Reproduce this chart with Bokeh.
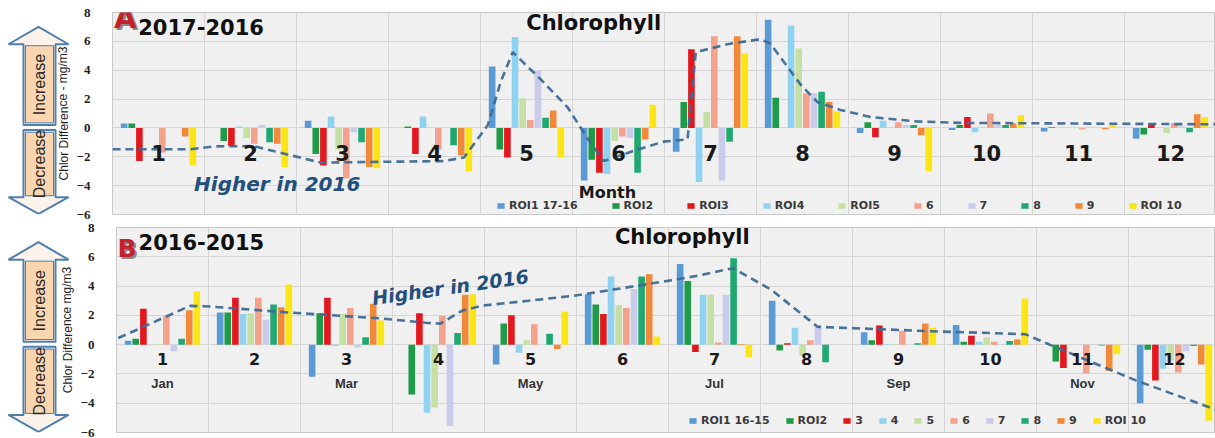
from bokeh.plotting import figure
from bokeh.models import Range1d, FixedTicker, Legend, LegendItem, Label
from bokeh.layouts import row, column
from bokeh.core.properties import value
from bokeh.embed import file_html
from bokeh.resources import INLINE

# ---------------- data ----------------
MONTHS = list(range(1, 13))
MONTH_TICK_LABELS = [str(m) for m in MONTHS]
MONTH_NAMES_B = ["Jan", "Mar", "May", "Jul", "Sep", "Nov"]
MONTH_NAME_POS_B = [1, 3, 5, 7, 9, 11]
Y_TICKS = [-6, -4, -2, 0, 2, 4, 6, 8]

ROI_LABELS_A = ["ROI1 17-16", "ROI2", "ROI3", "ROI4", "ROI5", "6", "7", "8", "9", "ROI 10"]
ROI_LABELS_B = ["ROI1 16-15", "ROI2", "3", "4", "5", "6", "7", "8", "9", "ROI 10"]
ROI_COLORS = ["#5B9BD5", "#1E9A48", "#E3171E", "#8FD3F0", "#C6E0A4",
              "#F4A28C", "#CACBEA", "#20A872", "#F08A3A", "#FBE515"]

# Panel A: 2017-2016 (values per ROI, months 1..12)
A_ROI1 = [0.3, 0.0, 0.5, 0.0, 4.25, -3.65, -1.65, 7.5, -0.35, -0.15, -0.25, -0.75]
A_ROI2 = [0.3, -0.9, -1.8, 0.1, -1.5, -2.2, 1.8, 2.1, 0.4, 0.2, 0.05, -0.45]
A_ROI3 = [-2.3, -1.25, -2.6, -1.8, -2.05, -3.1, 5.45, 0.0, -0.65, 0.75, 0.0, 0.3]
A_ROI4 = [0.0, 0.1, 0.8, 0.8, 6.3, -3.2, -3.75, 7.1, 0.5, -0.3, 0.0, 0.0]
A_ROI5 = [0.0, -0.7, -1.5, 0.0, 2.05, -0.9, 1.1, 5.5, 0.0, 0.05, 0.0, -0.35]
A_ROI6 = [-1.7, -1.1, -3.5, -1.5, 0.55, -0.6, 6.35, 2.4, 0.4, 1.0, -0.1, 0.35]
A_ROI7 = [0.0, 0.2, -0.3, 0.0, 4.0, -0.7, -3.65, 2.4, 0.2, 0.2, 0.05, 0.1]
A_ROI8 = [0.0, -1.0, -1.0, -1.2, 0.7, -3.1, -0.95, 2.5, 0.2, 0.2, 0.0, -0.3]
A_ROI9 = [-0.6, -1.1, -2.7, -1.9, 1.2, -0.8, 6.35, 1.8, -0.5, 0.3, -0.1, 0.95]
A_ROI10 = [-2.6, -2.7, -2.8, -3.0, -2.05, 1.6, 5.15, 1.15, -3.0, 0.9, 0.2, 0.75]

# Panel B: 2016-2015
B_ROI1 = [0.27, 2.2, -2.2, 0.0, -1.35, 3.45, 5.5, 3.0, 0.85, 1.35, 0.0, -4.0]
B_ROI2 = [0.4, 2.2, 2.15, -3.4, 1.45, 2.75, 4.35, -0.4, 0.3, 0.2, -1.15, -0.35]
B_ROI3 = [2.45, 3.2, 3.2, 2.15, 2.0, 2.1, -0.5, 0.1, 1.3, 0.6, -1.6, -2.45]
B_ROI4 = [0.0, 2.1, -0.1, -4.65, -0.55, 4.65, 3.4, 1.15, 0.05, 0.2, 0.0, -1.65]
B_ROI5 = [0.05, 2.15, 2.1, -4.3, 0.3, 2.7, 3.4, -0.75, 0.05, 0.5, 0.0, -1.1]
B_ROI6 = [1.95, 3.2, 2.5, 1.95, 1.4, 2.5, 0.15, 0.3, 0.95, 0.2, -1.95, -1.9]
B_ROI7 = [-0.45, 1.7, -0.2, -5.55, 0.0, 3.8, 3.4, 1.25, 0.0, 0.05, 0.0, -0.45]
B_ROI8 = [0.4, 2.75, 0.5, 0.8, 0.75, 4.65, 5.9, -1.2, 0.1, 0.25, -0.05, -0.1]
B_ROI9 = [2.35, 2.55, 2.8, 3.4, -0.3, 4.8, 0.05, 0.0, 1.45, 0.35, -1.8, -1.35]
B_ROI10 = [3.65, 4.1, 1.65, 3.45, 2.25, 0.55, -0.85, 0.0, 1.15, 3.15, -0.65, -5.2]

# hand-drawn dashed trend lines (x in month units)
TREND_A_X = [0.5, 1.35, 1.60, 2.03, 2.76, 4.10, 4.32, 4.58, 4.72, 4.85, 5.15, 5.45, 5.66,
             5.84, 6.16, 6.49, 6.75, 6.84, 7.18, 7.54, 7.65, 7.98, 8.16, 8.41, 8.74,
             9.25, 9.72, 12.5]
TREND_A_Y = [-1.48, -1.48, -1.28, -1.26, -2.4, -2.3, -2.05, 0.2, 3.2, 5.25, 3.4, 1.4, -0.7,
             -2.3, -1.6, -0.95, -0.8, 5.25, 5.8, 6.15, 5.85, 3.0, 1.8, 1.25, 0.75,
             0.45, 0.35, 0.25]
TREND_B_X = [0.52, 1.30, 1.52, 2.36, 3.35, 3.86, 4.02, 4.26, 4.48, 4.98, 5.46, 6.03, 6.43,
             6.82, 7.20, 7.61, 8.12, 9.46, 9.76, 10.38, 10.60, 11.58, 12.45]
TREND_B_Y = [0.45, 2.65, 2.6, 2.2, 1.8, 1.49, 1.44, 2.33, 2.67, 3.0, 3.33, 3.89, 4.29,
             4.71, 5.22, 3.78, 1.22, 0.89, 0.84, 0.71, 0.11, -2.44, -4.45]

A_SERIES = [A_ROI1, A_ROI2, A_ROI3, A_ROI4, A_ROI5, A_ROI6, A_ROI7, A_ROI8, A_ROI9, A_ROI10]
B_SERIES = [B_ROI1, B_ROI2, B_ROI3, B_ROI4, B_ROI5, B_ROI6, B_ROI7, B_ROI8, B_ROI9, B_ROI10]

# ---------------- styling ----------------
TOTAL_W = 1215
AXIS_BORDER = 40
SLOT = 0.083
BAR_W = 0.072
MONTH_PX = 92.0
FRAME_BG = "#F0F0F0"
GRID_C = "#D5D5D5"
TREND_C = "#3F6A93"
BOLD_FONT = "DejaVu Sans"


def arrow_fig(width, y_range, height, top, bottom, axis_title):
    a = figure(width=width, height=height, x_range=Range1d(0, width), y_range=y_range,
               output_backend="svg", toolbar_location=None,
               min_border_left=0, min_border_right=0, min_border_top=top, min_border_bottom=bottom)
    a.axis.visible = False
    a.grid.visible = False
    a.outline_line_color = None
    a.background_fill_color = "white"
    a.border_fill_color = "white"
    cx, hl, hr, sl, sr = 38, 8, 68, 23, 55
    # upper (increase) arrow
    a.patch([sl, sl, hl, cx, hr, sr, sr], [0.2, 5.8, 5.8, 7.0, 5.8, 5.8, 0.2],
            fill_color="#FDF3EA", line_color="#4F7FAE", line_width=2)
    a.quad(left=[sl + 2], right=[sr - 2], bottom=[0.35], top=[5.7],
           fill_color="#F9D5B0", line_color="#4F7FAE", line_width=1)
    # lower (decrease) arrow
    a.patch([sl, sl, hl, cx, hr, sr, sr], [-0.15, -4.8, -4.8, -5.95, -4.8, -4.8, -0.15],
            fill_color="#FDF3EA", line_color="#4F7FAE", line_width=2)
    a.quad(left=[sl + 2], right=[sr - 2], bottom=[-4.7], top=[-0.3],
           fill_color="#F9D5B0", line_color="#4F7FAE", line_width=1)
    a.text(x=[(sl + sr) / 2, (sl + sr) / 2], y=[3.0, -2.5], text=["Increase", "Decrease"],
           angle=1.5708, text_align="center", text_baseline="middle",
           text_font=value("Liberation Sans"), text_font_size="16px", text_color="#2b2b2b")
    # y-axis title (drawn here, overlapping the arrow tips as in the original)
    a.text(x=[width - 9], y=[1.0], text=[axis_title], angle=1.5708, text_align="center",
           text_baseline="middle", text_font=value("Liberation Sans"), text_font_size="12px",
           text_color="#1e1e1e")
    return a


def main_fig(width, x_end, series, labels, trend_x, trend_y, height, top, bottom,
             legend_loc, legend_spacing):
    p = figure(width=width, height=height, x_range=Range1d(0.5, x_end), y_range=Range1d(-6, 8),
               output_backend="svg", toolbar_location=None,
               min_border_left=AXIS_BORDER, min_border_right=0,
               min_border_top=top, min_border_bottom=bottom)
    p.background_fill_color = FRAME_BG
    p.border_fill_color = "white"
    p.outline_line_color = "#C8C8C8"
    p.xaxis.visible = False
    p.xgrid.ticker = FixedTicker(ticks=[m + 0.5 for m in [0] + MONTHS])
    p.ygrid.ticker = FixedTicker(ticks=Y_TICKS)
    p.grid.grid_line_color = GRID_C
    p.grid.grid_line_width = 1
    ax = p.yaxis[0]
    ax.ticker = FixedTicker(ticks=Y_TICKS)
    ax.axis_line_color = None
    ax.major_tick_line_color = None
    ax.minor_tick_line_color = None
    ax.major_label_text_font = "Liberation Serif"
    ax.major_label_text_font_style = "bold"
    ax.major_label_text_font_size = "13px"
    ax.major_label_text_color = "#222222"
    ax.major_label_standoff = 16

    items = []
    for i, (vals, lab, col) in enumerate(zip(series, labels, ROI_COLORS)):
        xs = [m + (i - 4.5) * SLOT for m in MONTHS]
        r = p.vbar(x=xs, top=vals, bottom=0, width=BAR_W, fill_color=col, line_color=None)
        items.append(LegendItem(label=lab, renderers=[r]))
    p.line(trend_x, trend_y, line_color=TREND_C, line_width=2.6, line_dash="8 5", line_alpha=0.95)

    leg = Legend(items=items, orientation="horizontal", location=legend_loc,
                 label_text_font=BOLD_FONT, label_text_font_style="bold",
                 label_text_font_size="11px", label_text_color="#3a3a3a",
                 glyph_width=9, glyph_height=7, label_standoff=4, spacing=legend_spacing,
                 padding=0, margin=0, border_line_alpha=0, background_fill_alpha=0,
                 label_width=1, label_height=12)
    p.add_layout(leg)
    return p


# ---------------- panel A ----------------
H_A, TOP_A, BOT_A = 221, 12, 7
ARROW_A = 72
MAIN_A = TOTAL_W - ARROW_A
XEND_A = 0.5 + (MAIN_A - AXIS_BORDER) / MONTH_PX
pA = main_fig(MAIN_A, XEND_A, A_SERIES, ROI_LABELS_A, TREND_A_X, TREND_A_Y, H_A, TOP_A, BOT_A,
              (384, 2), 33)
pA.text(x=MONTHS, y=[-1.75] * 12, text=MONTH_TICK_LABELS, text_align="center",
        text_baseline="middle", text_font=value(BOLD_FONT), text_font_style="bold",
        text_font_size="21px", text_color="#1a1a1a")
pA.add_layout(Label(x=5.88, y=-4.45, text="Month", text_align="center", text_baseline="middle",
                    text_font=BOLD_FONT, text_font_style="bold", text_font_size="16px",
                    text_color="#1a1a1a"))
pA.add_layout(Label(x=0.515, y=6.45, text="A", text_font=BOLD_FONT, text_font_style="bold",
                    text_font_size="29px", text_color="#8a8a8a", x_offset=2, y_offset=-2))
pA.add_layout(Label(x=0.515, y=6.45, text="A", text_font=BOLD_FONT, text_font_style="bold",
                    text_font_size="29px", text_color="#C4212B"))
pA.add_layout(Label(x=0.78, y=6.42, text="2017-2016", text_font=BOLD_FONT, text_font_style="bold",
                    text_font_size="21px", text_color="#111111"))
pA.add_layout(Label(x=5.73, y=6.45, text="Chlorophyll", text_align="center", text_font=BOLD_FONT,
                    text_font_style="bold", text_font_size="21px", text_color="#111111"))
pA.add_layout(Label(x=2.29, y=-3.87, text="Higher in 2016", text_align="center",
                    text_baseline="middle", text_font=BOLD_FONT, text_font_style="bold italic",
                    text_font_size="20px", text_color="#234F7D"))
aA = arrow_fig(ARROW_A, pA.y_range, H_A, TOP_A, BOT_A, "Chlor Difference - mg/m3")

# ---------------- panel B ----------------
H_B, TOP_B, BOT_B = 438 - H_A, 6, 6
ARROW_B = 76
MAIN_B = TOTAL_W - ARROW_B
XEND_B = 0.5 + (MAIN_B - AXIS_BORDER) / MONTH_PX
pB = main_fig(MAIN_B, XEND_B, B_SERIES, ROI_LABELS_B, TREND_B_X, TREND_B_Y, H_B, TOP_B, BOT_B,
              (572, 5), 15)
pB.text(x=MONTHS, y=[-1.0] * 12, text=MONTH_TICK_LABELS, text_align="center",
        text_baseline="middle", text_font=value(BOLD_FONT), text_font_style="bold",
        text_font_size="16px", text_color="#1a1a1a")
pB.text(x=MONTH_NAME_POS_B, y=[-2.65] * 6, text=MONTH_NAMES_B, text_align="center",
        text_baseline="middle", text_font=value("Liberation Sans"), text_font_style="bold",
        text_font_size="13px", text_color="#333333")
pB.add_layout(Label(x=0.51, y=5.6, text="B", text_font=BOLD_FONT, text_font_style="bold",
                    text_font_size="25px", text_color="#8a8a8a", x_offset=2, y_offset=-2))
pB.add_layout(Label(x=0.51, y=5.6, text="B", text_font=BOLD_FONT, text_font_style="bold",
                    text_font_size="25px", text_color="#C4212B"))
pB.add_layout(Label(x=0.74, y=6.45, text="2016-2015", text_font=BOLD_FONT, text_font_style="bold",
                    text_font_size="21px", text_color="#111111"))
pB.add_layout(Label(x=6.65, y=6.5, text="Chlorophyll", text_align="center", text_font=BOLD_FONT,
                    text_font_style="bold", text_font_size="21px", text_color="#111111"))
pB.add_layout(Label(x=4.13, y=3.93, text="Higher in 2016", text_align="center",
                    text_baseline="middle", angle=0.14, text_font=BOLD_FONT,
                    text_font_style="bold italic", text_font_size="19px", text_color="#234F7D"))
aB = arrow_fig(ARROW_B, pB.y_range, H_B, TOP_B, BOT_B, "Chlor Difference mg/m3")

layout = column(row(aA, pA), row(aB, pB))
open("out.html", "w").write(file_html(layout, INLINE))
